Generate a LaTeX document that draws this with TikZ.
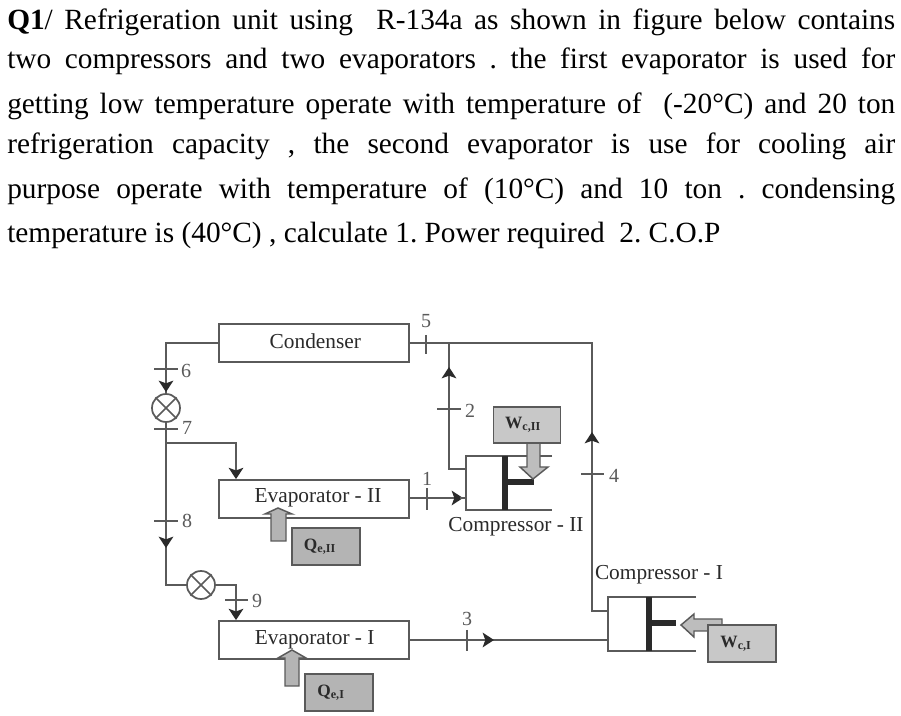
\documentclass[tikz,border=0pt]{standalone}
\usepackage{fontspec}
\setmainfont{Liberation Serif}
\usetikzlibrary{arrows.meta}
\definecolor{linec}{HTML}{5A5A5A}
\definecolor{boxfill}{HTML}{C8C8C8}
\definecolor{qfill}{HTML}{B4B4B4}
\definecolor{inkc}{HTML}{2A2A2A}
\newcommand{\pxfont}[1]{\fontsize{#1}{#1}\selectfont}
\newcommand{\fullline}[1]{\makebox[666pt][s]{#1}}
\newcommand{\up}[2]{\smash{\raisebox{#1}{#2}}}
\frenchspacing
\tikzset{
  x=0.75pt,y=-0.75pt,
  qline/.style={text=black,anchor=base west,inner sep=0pt,font=\pxfont{22pt}},
  unit/.style={draw=linec,line width=1.3pt,fill=white,inner sep=0pt},
  lbl/.style={text=inkc,inner sep=0pt,font=\pxfont{16pt}},
  num/.style={text=linec,inner sep=0pt,font=\pxfont{15pt}},
  wire/.style={draw=linec,line width=1.2pt},
  flow/.style={wire,-{Stealth[length=8.5pt,width=11pt,inset=2pt,color=inkc]}},
  tick/.style={draw=linec,line width=1pt},
  valve/.style={draw=linec,line width=1.3pt,fill=white,circle,minimum size=21pt,inner sep=0pt},
  sbox/.style={draw=linec,line width=1.2pt,fill=boxfill,inner sep=0pt,text=inkc,font=\bfseries\pxfont{13pt}},
  piston/.style={draw=inkc,line width=5pt},
  blockarrow/.style={draw=linec,line width=1.1pt,fill=boxfill!85!gray,line join=miter},
}
\begin{document}
\begin{tikzpicture}
\useasboundingbox (0,0) rectangle (901,716);
\fill[white] (0,0) rectangle (901,716);
% question text
\node[qline] (l1) at (7,30) {\fullline{\textbf{Q1}/ Refrigeration unit using ~R-134a as shown in figure below contains}};
\node[qline] (l2) at (7,69) {\fullline{two compressors and two evaporators . the first evaporator is used for}};
\node[qline] (l3) at (7,114) {\fullline{getting low temperature operate with temperature of ~(-20°C) and 20 ton}};
\node[qline] (l4) at (7,154) {\fullline{refrigeration capacity , the second evaporator is use for cooling air}};
\node[qline] (l5) at (7,199) {\fullline{purpose operate with temperature of (10°C) and 10 ton . condensing}};
\node[qline] (l6) at (7,243) {temperature is (40°C) , calculate 1. Power required ~2. C.O.P};
% units
\node[unit,minimum width=142.5pt,minimum height=28.5pt,lbl,text=inkc] (cond) at (314,343) {\hspace{2pt}\up{-4.5pt}{Condenser}};
\node[unit,minimum width=142.5pt,minimum height=28.5pt,lbl,text=inkc] (evap2) at (314,499) {\hspace{6pt}\up{-3pt}{Evaporator - II}};
\node[unit,minimum width=142.5pt,minimum height=28.5pt,lbl,text=inkc] (evap1) at (314,640) {\hspace{1pt}\up{-3.5pt}{Evaporator - I}};
\node[valve] (v1) at (166,408) {};
\node[valve] (v2) at (201,585) {};
\draw[linec,line width=1.1pt] (v1.45)--(v1.225) (v1.135)--(v1.315);
\draw[linec,line width=1.1pt] (v2.45)--(v2.225) (v2.135)--(v2.315);
\coordinate (c6) at (166,343);
\coordinate (a6) at (166,392);
\coordinate (j7) at (166,443);
\coordinate (c85) at (166,585);
\coordinate (a8) at (166,548);
\coordinate (e2in) at (236,443);
\coordinate (c9) at (236,585);
\coordinate (top) at (449,343);
\coordinate (topr) at (592,343);
% left loop
\draw[wire] (cond.west) -- (c6) -- (a6);
\draw[flow] (c6) -- (a6);
\draw[wire] (a6) -- (v1.north);
\draw[wire] (v1.south) -- (j7) -- (a8);
\draw[flow] (j7) -- (a8);
\draw[wire] (a8) -- (c85) -- (v2.west);
\draw[flow] (j7) -- (e2in) -- (e2in |- evap2.north);
\draw[flow] (v2.east) -- (c9) -- (c9 |- evap1.north);
% compressor II
\coordinate (c2a) at (466,456);
\coordinate (c2b) at (466,510);
\coordinate (c2ta) at (552,456);
\coordinate (c2tb) at (552,510);
\coordinate (c2in) at (466,498);
\coordinate (c2out) at (466,469);
\coordinate (c2p) at (505,456);
\coordinate (c2q) at (505,510);
\coordinate (c2r) at (505,482);
\coordinate (c2s) at (534,482);
\draw[wire] (c2ta) -- (c2a) -- (c2b) -- (c2tb);
\draw[piston] (c2p) -- (c2q);
\draw[piston,line width=4pt] (c2r) -- (c2s);
% compressor I
\coordinate (c1a) at (608,597);
\coordinate (c1b) at (608,651);
\coordinate (c1ta) at (696,597);
\coordinate (c1tb) at (696,651);
\coordinate (c1in) at (608,640);
\coordinate (c1out) at (608,611);
\coordinate (c1p) at (649,597);
\coordinate (c1q) at (649,651);
\coordinate (c1r) at (649,623);
\coordinate (c1s) at (676,623);
\draw[wire] (c1ta) -- (c1a) -- (c1b) -- (c1tb);
\draw[piston] (c1p) -- (c1q);
\draw[piston,line width=4pt] (c1r) -- (c1s);
% connecting lines
\draw[wire] (cond.east) -- (topr) -- (592,611) -- (c1out);
\draw[flow] (592,474) -- (592,432);
\draw[wire] (c2out) -- (449,469) -- (top);
\draw[flow] (449,420) -- (449,367);
\draw[flow] (evap2.east |- c2in) -- (463,498);
\draw[wire] (460,498) -- (c2in);
\draw[wire] (evap1.east |- c1in) -- (c1in);
\draw[flow] (470,640) -- (494,640);
% ticks
\draw[tick] (154,369) -- (178,369);
\draw[tick] (154,429) -- (178,429);
\draw[tick] (154,521) -- (178,521);
\draw[tick] (225,600) -- (248,600);
\draw[tick] (426,335) -- (426,354);
\draw[tick] (427,488) -- (427,510);
\draw[tick] (467,630) -- (467,651);
\draw[tick] (437,409) -- (461,409);
\draw[tick] (581,474) -- (604,474);
% numbers
\node[num] (n5) at (426,321) {5};
\node[num] (n6) at (186,371) {6};
\node[num] (n7) at (187,428) {7};
\node[num] (n8) at (187,521) {8};
\node[num] (n9) at (257,601) {9};
\node[num] (n1) at (427,479) {1};
\node[num] (n2) at (470,411) {2};
\node[num] (n3) at (467,619) {3};
\node[num] (n4) at (614,476) {4};
\node[lbl] (lc2) at (516,527) {Compressor - II};
\node[lbl] (lc1) at (659,575) {Compressor - I};
% work and heat
\draw[blockarrow] (527,440) -- (527,467) -- (520,467) -- (533,479) -- (548,467) -- (540,467) -- (540,440) -- cycle;
\node[sbox,minimum width=50.5pt,minimum height=27pt] (wc2) at (527,425) {W\textsubscript{c,II}\hspace{6pt}\null};
\draw[blockarrow] (722,619) -- (694,619) -- (694,614) -- (681,625) -- (694,637) -- (694,631) -- (722,631) -- cycle;
\node[sbox,minimum width=51pt,minimum height=27.5pt] (wc1) at (742,643.5) {W\textsubscript{c,I}\hspace{9pt}\null};
\draw[blockarrow,fill=qfill] (271,541) -- (271,514) -- (265,514) -- (278,508) -- (292,514) -- (286,514) -- (286,541) -- cycle;
\node[sbox,fill=qfill,minimum width=51pt,minimum height=27.5pt] (qe2) at (326,546.5) {Q\textsubscript{e,II}\hspace{9pt}\null};
\draw[blockarrow,fill=qfill] (285,686) -- (285,658) -- (278,658) -- (292,650) -- (306,658) -- (299,658) -- (299,686) -- cycle;
\node[sbox,fill=qfill,minimum width=51pt,minimum height=27.5pt] (qe1) at (339,692.5) {Q\textsubscript{e,I}\hspace{12pt}\null};
\end{tikzpicture}
\end{document}
